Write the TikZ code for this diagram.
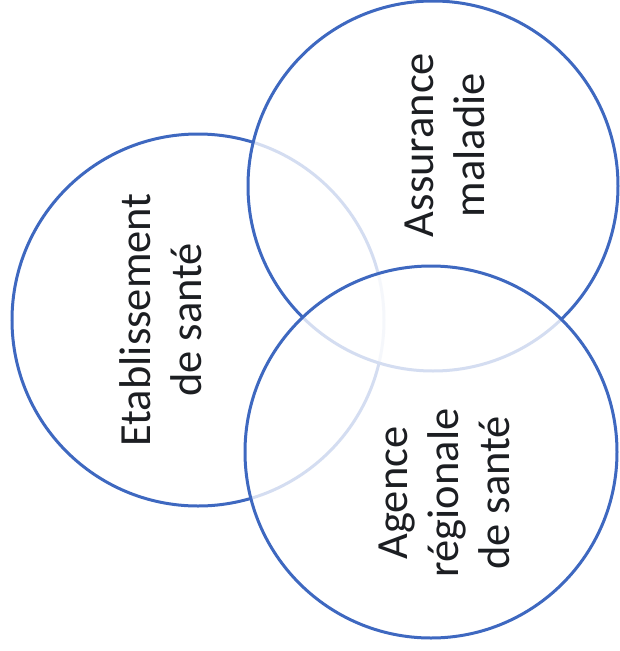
\documentclass[tikz,border=0pt]{standalone}
\usepackage{fontspec}
\setmainfont{Carlito}
\definecolor{ringblue}{RGB}{62,104,192}
\definecolor{inktext}{RGB}{28,30,34}
\begin{document}
\begin{tikzpicture}[x=1pt,y=-1pt,
  ringnode/.style={circle, draw=ringblue, line width=3pt, fill=white, fill opacity=0.78, inner sep=0pt},
  labelnode/.style={rotate=90, align=center, inner sep=0pt, text=inktext, font=\fontsize{44.5}{51}\selectfont}]
\useasboundingbox (0,0) rectangle (619,651);
\node[ringnode, minimum size=372pt] (etab) at (198,320) {};
\node[ringnode, minimum size=370pt] (assur) at (433,186) {};
\node[ringnode, minimum size=372pt] (agence) at (431,452) {};
\node[labelnode] (etabtext) at (161,320) {Etablissement\\de santé};
\node[labelnode] (assurtext) at (445,145) {Assurance\\maladie};
\node[labelnode] (agencetext) at (444,493) {Agence\\régionale\\de santé};
\end{tikzpicture}
\end{document}
